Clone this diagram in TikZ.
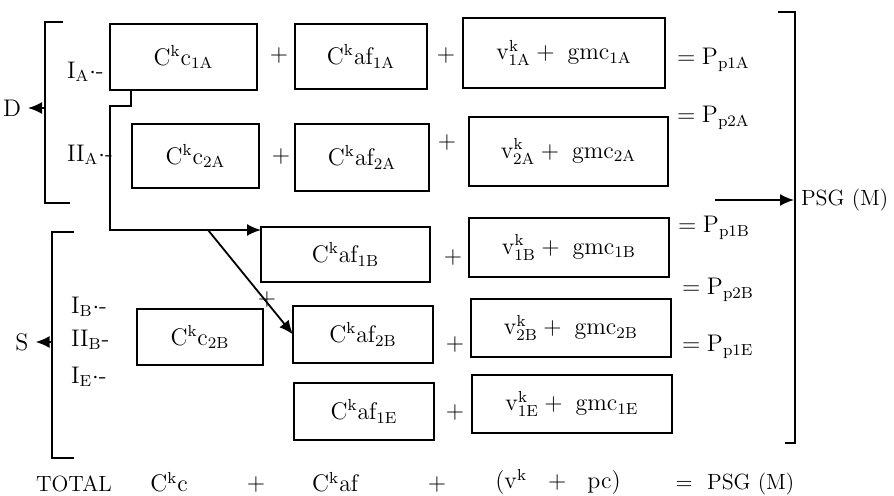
\documentclass[tikz,border=0pt]{standalone}
\usepackage{amsmath}
\usepackage{tikz}
\usetikzlibrary{arrows.meta}

\begin{document}
\begin{tikzpicture}[x=.5pt,y=-.5pt,
    every node/.style={font=\fontsize{12}{14}\selectfont},
    cell/.style={draw,line width=.9pt,inner sep=0pt,outer sep=0pt},
    caps/.style={font=\fontsize{11}{13}\selectfont},
    link/.style={line width=.9pt,-{Latex[length=7pt,width=6pt]}},
    brace/.style={line width=1.4pt}]
    \useasboundingbox (0,0) rectangle (894,496);
    % boxes
    \node[cell,minimum width=73.5pt,minimum height=33pt] (c1A) at (183.5,57) {$\mathrm{C^kc_{1A}}$};
    \node[cell,minimum width=66pt,minimum height=32.5pt] (af1A) at (361,56.5) {$\mathrm{C^kaf_{1A}}$};
    \node[cell,minimum width=101pt,minimum height=35pt] (v1A) at (564,53) {$\mathrm{v^k_{1A}} +\ \mathrm{gmc_{1A}}$};
    \node[cell,minimum width=63.5pt,minimum height=32pt] (c2A) at (195.5,156) {$\mathrm{C^kc_{2A}}$};
    \node[cell,minimum width=67pt,minimum height=33.5pt] (af2A) at (362,157.5) {$\mathrm{C^kaf_{2A}}$};
    \node[cell,minimum width=99.5pt,minimum height=34.5pt] (v2A) at (568.5,151.5) {$\mathrm{v^k_{2A}} +\ \mathrm{gmc_{2A}}$};
    \node[cell,minimum width=84.5pt,minimum height=27.5pt] (af1B) at (345.5,254.5) {$\mathrm{C^kaf_{1B}}$};
    \node[cell,minimum width=100pt,minimum height=29.5pt] (v1B) at (569,247.5) {$\mathrm{v^k_{1B}} +\ \mathrm{gmc_{1B}}$};
    \node[cell,minimum width=63pt,minimum height=28pt] (c2B) at (200,337) {$\mathrm{C^kc_{2B}}$};
    \node[cell,minimum width=70pt,minimum height=28.5pt] (af2B) at (363,334.5) {$\mathrm{C^kaf_{2B}}$};
    \node[cell,minimum width=100pt,minimum height=29pt] (v2B) at (571,328) {$\mathrm{v^k_{2B}} +\ \mathrm{gmc_{2B}}$};
    \node[cell,minimum width=70pt,minimum height=28.5pt] (af1E) at (364,411.5) {$\mathrm{C^kaf_{1E}}$};
    \node[cell,minimum width=100pt,minimum height=29pt] (v1E) at (572,404) {$\mathrm{v^k_{1E}} +\ \mathrm{gmc_{1E}}$};
    % plus signs
    \foreach \x/\y [count=\i] in {279/56,446/56,281/157,447/143,453/258,267/300,455/345,455/413}
      \node (plus\i) at (\x,\y) {$+$};
    % results
    \node[anchor=west] (p1A) at (670,60) {$=\mathrm{P_{p1A}}$};
    \node[anchor=west] (p2A) at (670,118) {$=\mathrm{P_{p2A}}$};
    \node[anchor=west] (p1B) at (671,228) {$=\mathrm{P_{p1B}}$};
    \node[anchor=west] (p2B) at (675,290) {$=\mathrm{P_{p2B}}$};
    \node[anchor=west] (p1E) at (675,347) {$=\mathrm{P_{p1E}}$};
    % row labels
    \node[anchor=west] (IA) at (60,72) {I$_{\mathrm{A}}\cdot$-};
    \node[anchor=west] (IIA) at (60,155) {II$_{\mathrm{A}}\cdot$-};
    \node[anchor=west] (IB) at (64,307) {I$_{\mathrm{B}}\cdot$-};
    \node[anchor=west] (IIB) at (64,340) {II$_{\mathrm{B}}$-};
    \node[anchor=west] (IE) at (64,377) {I$_{\mathrm{E}}\cdot$-};
    % brackets
    \draw[brace] (63,22) -- (45,22) -- (45,203) -- (70,203);
    \draw[brace] (74,232) -- (52,232) -- (52,458) -- (74,458);
    \draw[brace] (778,12) -- (795,12) -- (795,443) -- (785,443);
    \node (D) at (12,108) {D};
    \node (S) at (22,342) {S};
    \node[caps,anchor=west] (psg) at (794,200) {PSG (M)};
    \coordinate (dmid) at (45,108);
    \coordinate (smid) at (52,342);
    \coordinate (feed) at (715,200);
    \draw[link] (dmid) -- (D.east);
    \draw[link] (smid) -- (S.east);
    \draw[link] (feed) -- (psg.west);
    % transfer
    \coordinate (tap) at ([xshift=10.5pt]c1A.south west);
    \coordinate (bend) at (110,230);
    \coordinate (split) at (208,230);
    \draw[link] (tap) -- ++(0,16) -| (bend) -- (af1B.west |- bend);
    \draw[link] (split) -- (af2B.west);
    % totals
    \begin{scope}[every node/.append style={inner sep=1pt}]
    \node[caps] (total) at (74,484) {TOTAL};
    \node (tc) at (169,482) {$\mathrm{C^kc}$};
    \node (tplus1) at (256,484) {$+$};
    \node (taf) at (336,482) {$\mathrm{C^kaf}$};
    \node (tplus2) at (437,484) {$+$};
    \node (tv) at (558,482) {$(\mathrm{v^k}\ \ +\ \ \mathrm{pc})$};
    \node[caps] (tpsg) at (735,484) {$=$\ \ PSG (M)};
    \end{scope}
\end{tikzpicture}
\end{document}
